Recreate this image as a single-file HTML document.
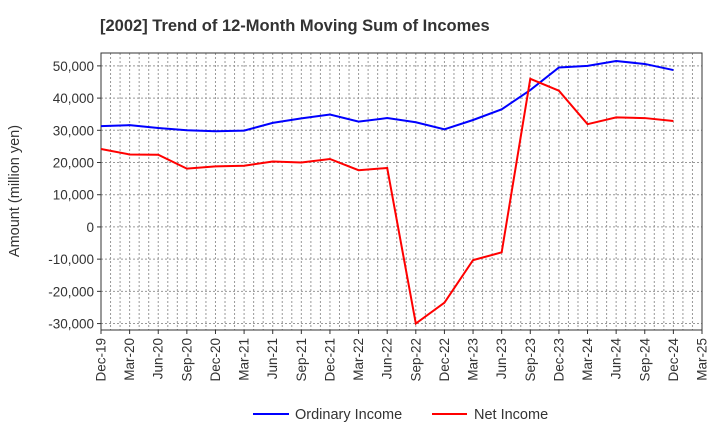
<!DOCTYPE html>
<html><head><meta charset="utf-8"><style>
body{margin:0;background:#fff;font-family:"Liberation Sans",sans-serif}
</style></head><body>
<svg id="c" width="720" height="440" xmlns="http://www.w3.org/2000/svg">
<text x="100" y="31" font-size="16.5" font-weight="bold" fill="#333">[2002]  Trend of 12-Month Moving Sum of Incomes</text>
<text transform="translate(19,191) rotate(-90)" text-anchor="middle" font-size="14.5" fill="#333">Amount (million yen)</text>
<g id="grid"></g><g id="axes"></g><g id="series"></g>
<g>
<line x1="253" y1="414" x2="289" y2="414" stroke="#0000ff" stroke-width="2"/>
<text x="295" y="419" font-size="14.5" fill="#333">Ordinary Income</text>
<line x1="432" y1="414" x2="467" y2="414" stroke="#ff0000" stroke-width="2"/>
<text x="474" y="419" font-size="14.5" fill="#333">Net Income</text>
</g>
</svg>
<script>
const categories=["Dec-19","Mar-20","Jun-20","Sep-20","Dec-20","Mar-21","Jun-21","Sep-21","Dec-21","Mar-22","Jun-22","Sep-22","Dec-22","Mar-23","Jun-23","Sep-23","Dec-23","Mar-24","Jun-24","Sep-24","Dec-24","Mar-25"];
const ordinaryIncome=[31300,31600,30700,30000,29700,29900,32300,33700,34900,32700,33800,32500,30300,33200,36500,42500,49500,50000,51500,50600,48700];
const netIncome=[24200,22500,22400,18100,18800,19000,20300,20000,21100,17600,18300,-30000,-23500,-10300,-7900,46000,42300,31900,34000,33800,32900];
const yTicks=[-30000,-20000,-10000,0,10000,20000,30000,40000,50000];
const L=101,R=702,T=53,B=330,yMin=-32000,yMax=54000;
const NS="http://www.w3.org/2000/svg";
const xs=i=>L+(R-L)*i/(categories.length-1);
const ys=v=>B-(v-yMin)/(yMax-yMin)*(B-T);
function mk(t,a,p){const e=document.createElementNS(NS,t);for(const k in a)e.setAttribute(k,a[k]);p.appendChild(e);return e;}
const grid=document.getElementById('grid'),axes=document.getElementById('axes'),series=document.getElementById('series');
const months=(categories.length-1)*3;
for(let m=1;m<months;m++){const x=L+(R-L)*m/months;const g=mk('line',{x1:x,x2:x,y1:T,y2:B,stroke:'#999','stroke-dasharray':'2,2'},grid);

}
yTicks.forEach(v=>{const y=ys(v);const g=mk('line',{x1:L,x2:R,y1:y,y2:y,stroke:'#999','stroke-dasharray':'2,2'},grid);


const t=mk('text',{x:L-7,y:y+5,'text-anchor':'end','font-size':13.5,fill:'#333'},axes);t.textContent=v.toLocaleString('en-US');


mk('line',{x1:L-4,x2:L,y1:y,y2:y,stroke:'#333'},axes);});
const fr=mk('rect',{x:L,y:T,width:R-L,height:B-T,fill:'none',stroke:'#333'},axes);


categories.forEach((c,i)=>{const x=xs(i);mk('line',{x1:x,x2:x,y1:B,y2:B+4,stroke:'#333'},axes);
const t=mk('text',{transform:`translate(${x+4.5},${B+8}) rotate(-90)`,'text-anchor':'end','font-size':13.5,fill:'#333'},axes);t.textContent=c;

});
function line(d,col,name){const p=mk('polyline',{points:d.map((v,i)=>xs(i)+','+ys(v)).join(' '),fill:'none',stroke:col,'stroke-width':2},series);

}
line(ordinaryIncome,'#0000ff','ordinary-income-line');
line(netIncome,'#ff0000','net-income-line');
</script>
</body></html>
